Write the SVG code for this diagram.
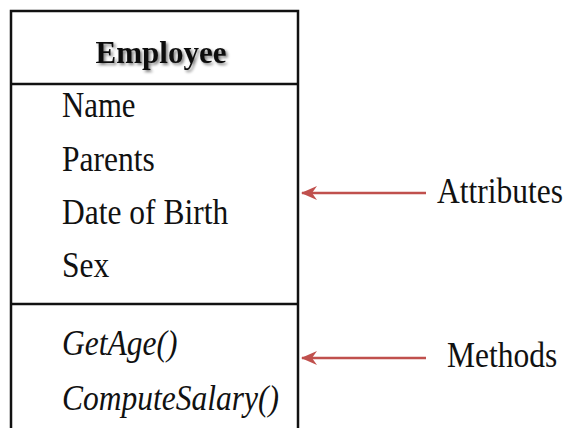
<svg xmlns="http://www.w3.org/2000/svg" width="568" height="428" viewBox="0 0 568 428">
<style>
.t{font-family:"Liberation Serif","Times New Roman",serif;font-size:35px;fill:#111}
.b{font-weight:bold;font-size:31px}
.i{font-style:italic}
.box{fill:#fff;stroke:#111;stroke-width:2.5}
.arr{stroke:#c0504d;stroke-width:2.5;fill:none}
</style>
<defs>
<marker id="ah" viewBox="0 0 16 14" refX="15" refY="7" markerWidth="16" markerHeight="14" markerUnits="userSpaceOnUse" orient="auto">
<path d="M0,0 L16,7 L0,14 L5,7 Z" fill="#c0504d"/>
</marker>
<filter id="sh" x="-10%" y="-30%" width="130%" height="160%">
<feGaussianBlur in="SourceAlpha" stdDeviation="1.5"/>
<feOffset dx="2" dy="2" result="o"/>
<feComponentTransfer><feFuncA type="linear" slope="0.5"/></feComponentTransfer>
<feMerge><feMergeNode/><feMergeNode in="SourceGraphic"/></feMerge>
</filter>
</defs>
<g id="employee">
<rect class="box" x="11" y="11" width="287" height="440"/>
<line x1="11" y1="84" x2="298" y2="84" stroke="#111" stroke-width="2.5"/>
<line x1="11" y1="304" x2="298" y2="304" stroke="#111" stroke-width="2.5"/>
<text class="t b" x="161" y="63" text-anchor="middle" filter="url(#sh)">Employee</text>
<text class="t" transform="translate(62,117) scale(0.88,1)">Name</text>
<text class="t" transform="translate(62,171) scale(0.9,1)">Parents</text>
<text class="t" transform="translate(62,224) scale(0.9,1)">Date of Birth</text>
<text class="t" transform="translate(62,277) scale(0.9,1)">Sex</text>
<text class="t i" transform="translate(62,355) scale(0.9,1)">GetAge()</text>
<text class="t i" transform="translate(62,410) scale(0.9,1)">ComputeSalary()</text>
</g>
<g id="attributes-label">
<text class="t" transform="translate(437,203) scale(0.9,1)">Attributes</text>
</g>
<g id="methods-label">
<text class="t" transform="translate(447,367) scale(0.9,1)">Methods</text>
</g>
<g id="connectors">
<line class="arr" x1="426" y1="193" x2="302" y2="193" marker-end="url(#ah)"/>
<line class="arr" x1="426" y1="358" x2="302" y2="358" marker-end="url(#ah)"/>
</g>
</svg>
